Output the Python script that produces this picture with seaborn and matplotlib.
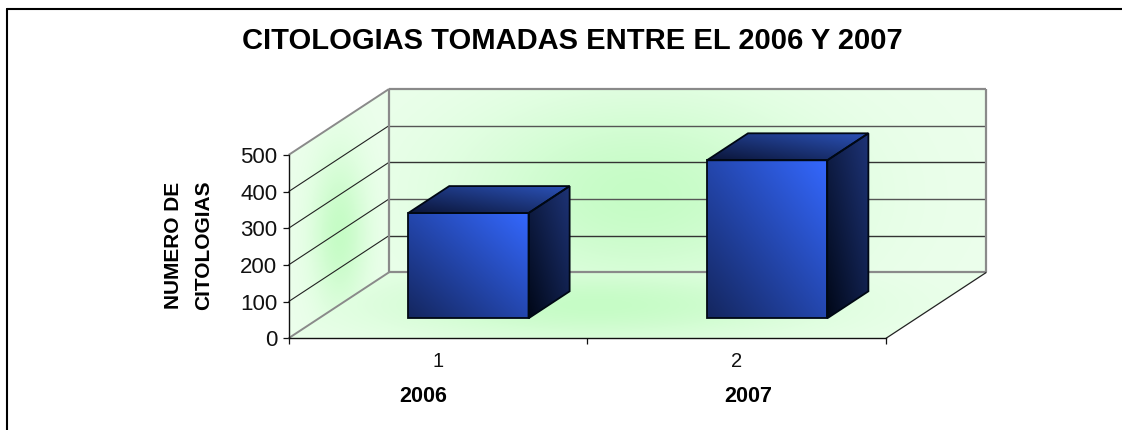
import numpy as np
import pandas as pd
import seaborn as sns
import matplotlib
matplotlib.use("Agg")
import matplotlib.pyplot as plt
from matplotlib.colors import to_rgb
from matplotlib.lines import Line2D
from matplotlib.patches import Polygon
from matplotlib.transforms import IdentityTransform

# ---- data ----
categories = ["1", "2"]
years = ["2006", "2007"]
citologias = [287, 431]
y_ticks = [0, 100, 200, 300, 400, 500]
title = "CITOLOGIAS TOMADAS ENTRE EL 2006 Y 2007"
ylabel = "NUMERO DE\nCITOLOGIAS"

W, H = 1122, 430
sns.set_theme(style="white")
plt.rcParams["font.family"] = ["Liberation Sans", "DejaVu Sans"]
fig = plt.figure(figsize=(W / 100, H / 100), dpi=100, facecolor="white")

# front plane of the 3-D box, in image pixels
L, R, T, B = 288.5, 886.0, 155.0, 338.3
ax = fig.add_axes([L / W, 1 - B / H, (R - L) / W, (B - T) / H])
ax.patch.set_alpha(0)

df = pd.DataFrame({"cat": categories, "n": citologias})
sns.barplot(data=df, x="cat", y="n", ax=ax, width=0.403, color="#2a50c8",
            saturation=1, errorbar=None)
ax.set_xlim(-0.5, 1.5)
ax.set_ylim(0, 500)

DX, DY = 100.5, 66.0            # full depth, in pixels (screen up = +y)
BAR_D0, BAR_D1 = 0.303, 0.712   # bar front / back depth fractions


def disp(x, y, d=0.0):
    p = ax.transData.transform((x, y))
    return (p[0] + DX * d, p[1] + DY * d)


def gradient(poly, func, z):
    poly = np.asarray(poly)
    x0, y0 = poly.min(axis=0)
    x1, y1 = poly.max(axis=0)
    nx, ny = int(x1 - x0) + 2, int(y1 - y0) + 2
    u, v = np.meshgrid(np.linspace(0, 1, nx), np.linspace(0, 1, ny))
    im = ax.imshow(func(u, v), extent=(x0, x1, y0, y1), origin="lower",
                   aspect="auto", transform=IdentityTransform(), zorder=z,
                   interpolation="bilinear")
    im.set_clip_box(fig.bbox)
    im.set_clip_path(Polygon(poly, closed=True, transform=IdentityTransform()))


def mix(a, b, t):
    a, b = np.array(to_rgb(a)), np.array(to_rgb(b))
    t = np.clip(t, 0, 1)[..., None]
    return a + (b - a) * t


def wall(cx, cy, sx, sy, centre="#c6fcc6", edge="#ecffec"):
    return lambda u, v: mix(edge, centre, np.exp(-(((u - cx) / sx) ** 2 + ((v - cy) / sy) ** 2)))


def diag(c0, c1):
    return lambda u, v: mix(c0, c1, (u + v) / 2)


def line(p, q, color, lw, z=2):
    ax.add_line(Line2D([p[0], q[0]], [p[1], q[1]], color=color, lw=lw, transform=IdentityTransform(),
                       zorder=z, clip_on=False, solid_capstyle="butt"))


xa, xb = ax.get_xlim()
# back wall, side wall, floor
gradient([disp(xa, 0, 1), disp(xb, 0, 1), disp(xb, 500, 1), disp(xa, 500, 1)], wall(0.42, 0.42, 0.30, 0.55), 0.5)
gradient([disp(xa, 0, 0), disp(xa, 0, 1), disp(xa, 500, 1), disp(xa, 500, 0)], wall(0.5, 0.42, 0.28, 0.32), 0.5)
gradient([disp(xa, 0, 0), disp(xb, 0, 0), disp(xb, 0, 1), disp(xa, 0, 1)], wall(0.44, 0.5, 0.32, 0.6), 0.5)

# gridlines on the walls
for t in y_ticks[1:-1]:
    c = "#333333" if t % 200 else "#555555"
    line(disp(xa, t, 1), disp(xb, t, 1), c, 1.0)
    line(disp(xa, t, 0), disp(xa, t, 1), "#222222", 0.8)
# wall borders
GR = "#8a8a8a"
line(disp(xa, 500, 1), disp(xb, 500, 1), GR, 1.6)
line(disp(xa, 0, 1), disp(xb, 0, 1), GR, 1.6)
line(disp(xa, 0, 1), disp(xa, 500, 1), GR, 1.6)
line(disp(xb, 0, 1), disp(xb, 500, 1), GR, 1.6)
line(disp(xa, 500, 0), disp(xa, 500, 1), GR, 1.4)
line(disp(xa, 0, 0), disp(xa, 0, 1), GR, 1.4)
line(disp(xb, 0, 0), disp(xb, 0, 1), "#222222", 0.9)

# bars: geometry comes from seaborn's own bar patches
for bar in list(ax.patches):
    x0, x1, h = bar.get_x(), bar.get_x() + bar.get_width(), bar.get_height()
    bar.set_visible(False)
    front = [disp(x0, 0, BAR_D0), disp(x1, 0, BAR_D0), disp(x1, h, BAR_D0), disp(x0, h, BAR_D0)]
    side = [disp(x1, 0, BAR_D0), disp(x1, 0, BAR_D1), disp(x1, h, BAR_D1), disp(x1, h, BAR_D0)]
    top = [disp(x0, h, BAR_D0), disp(x1, h, BAR_D0), disp(x1, h, BAR_D1), disp(x0, h, BAR_D1)]
    gradient(side, diag("#010818", "#1e3478"), 3)
    gradient(top, diag("#0b1538", "#2b52b8"), 3)
    gradient(front, diag("#14265e", "#3468ff"), 3)
    for poly in (side, top, front):
        ax.add_patch(Polygon(poly, closed=True, fill=False, edgecolor="#000814", lw=1.3,
                             transform=IdentityTransform(), zorder=4, clip_on=False))

ax.set_xlim(xa, xb)
ax.set_ylim(0, 500)

# axes
for s in ("top", "right"):
    ax.spines[s].set_visible(False)
for s in ("left", "bottom"):
    ax.spines[s].set_color("#111111")
    ax.spines[s].set_linewidth(1.0)
ax.set_yticks(y_ticks)
ax.tick_params(axis="y", which="major", left=True, length=4, width=0.9, color="#111111",
               labelsize=16, pad=4, labelcolor="#111111")
ax.set_xticks(range(len(categories)))
ax.set_xticklabels(categories)
ax.set_xticks([-0.5, 0.5, 1.5], minor=True)
ax.tick_params(axis="x", which="major", bottom=False, labelsize=14.5, pad=4, labelcolor="#111111")
ax.tick_params(axis="x", which="minor", bottom=True, length=4, width=0.9, color="#111111")
ax.set_xlabel("")
ax.set_ylabel("")

# texts
fig.text(572 / W, 1 - 41 / H, title, ha="center", va="center", fontsize=21, fontweight="bold", color="black")
for px, yr in zip((423, 748), years):
    fig.text(px / W, 1 - 397 / H, yr, ha="center", va="center", fontsize=15.5, fontweight="bold", color="black")
fig.text(189 / W, 1 - 245 / H, ylabel, rotation=90, ha="center", va="center", ma="center",
         fontsize=15, fontweight="bold", color="black", linespacing=1.75)

# outer frame: left and top edges only, running off the picture
for xs, ys in (((7, 7), (431, 9)), ((7, 1123), (9, 9))):
    fig.add_artist(Line2D([x / W for x in xs], [1 - y / H for y in ys], color="black", lw=1.5))

fig.savefig("out.png", dpi=100, facecolor="white")
